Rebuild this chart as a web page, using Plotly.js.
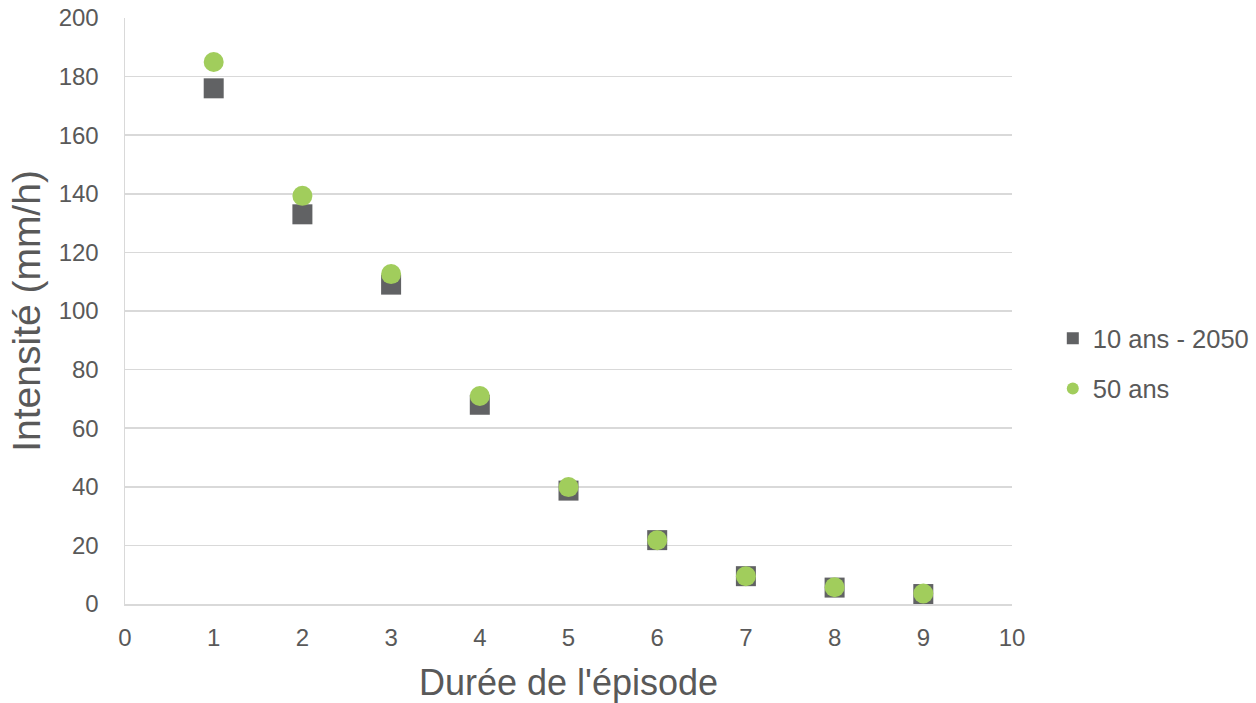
<!DOCTYPE html>
<html>
<head>
<meta charset="utf-8">
<script src="https://cdn.plot.ly/plotly-3.0.1.min.js"></script>
<style>html,body{margin:0;padding:0;background:#fff;}#chart{width:1256px;height:703px;}</style>
</head>
<body>
<div id="chart"></div>
<script>
const durations = [1, 2, 3, 4, 5, 6, 7, 8, 9];
const series10ans2050 = [176, 133, 109, 68, 38.7, 21.8, 9.5, 5.6, 3.4];
const series50ans = [185, 139.3, 112.6, 71, 39.9, 21.8, 9.5, 5.7, 3.6];
const seriesNames = ["10 ans - 2050", "50 ans"];

const FONT = "Liberation Sans, Arial, sans-serif";
const traces = [
  {
    x: durations, y: series10ans2050, name: seriesNames[0], legendgroup: "a",
    type: "scatter", mode: "markers",
    marker: {symbol: "square", size: 20, color: "#616264"}
  },
  {
    x: durations, y: series50ans, name: seriesNames[1], legendgroup: "b",
    type: "scatter", mode: "markers",
    marker: {symbol: "circle", size: 20, color: "#a1cd5c"}
  }
];

const layout = {
  width: 1256, height: 703,
  margin: {l: 125, r: 244, t: 18, b: 99, autoexpand: false},
  paper_bgcolor: "#ffffff", plot_bgcolor: "#ffffff",
  font: {family: FONT, color: "#595959", size: 24},
  showlegend: true,
  legend: {
    x: 1.046, xanchor: "left", y: 0.41, yanchor: "middle",
    font: {family: FONT, size: 25.5, color: "#595959"},
    itemsizing: "constant", itemwidth: 30, tracegroupgap: 14, bgcolor: "rgba(0,0,0,0)"
  },
  xaxis: {
    range: [0, 10], dtick: 1, tick0: 0,
    showgrid: false, zeroline: false,
    showline: true, linecolor: "#d9d9d9", linewidth: 1.5,
    ticks: "", ticklabelstandoff: 12,
    tickfont: {family: FONT, size: 24, color: "#595959"},
    title: {text: "Durée de l'épisode", font: {family: FONT, size: 36, color: "#595959"}, standoff: 22},
    fixedrange: true
  },
  yaxis: {
    range: [0, 200], dtick: 20, tick0: 0,
    showgrid: true, gridcolor: "#d9d9d9", gridwidth: 1.5,
    zeroline: false,
    showline: true, linecolor: "#d9d9d9", linewidth: 1.5,
    ticks: "", ticklabelstandoff: 20,
    tickfont: {family: FONT, size: 24, color: "#595959"},
    title: {text: "Intensité (mm/h)", font: {family: FONT, size: 39, color: "#595959"}, standoff: 6},
    fixedrange: true
  }
};

Plotly.newPlot("chart", traces, layout, {staticPlot: true, displayModeBar: false});
</script>
</body>
</html>
